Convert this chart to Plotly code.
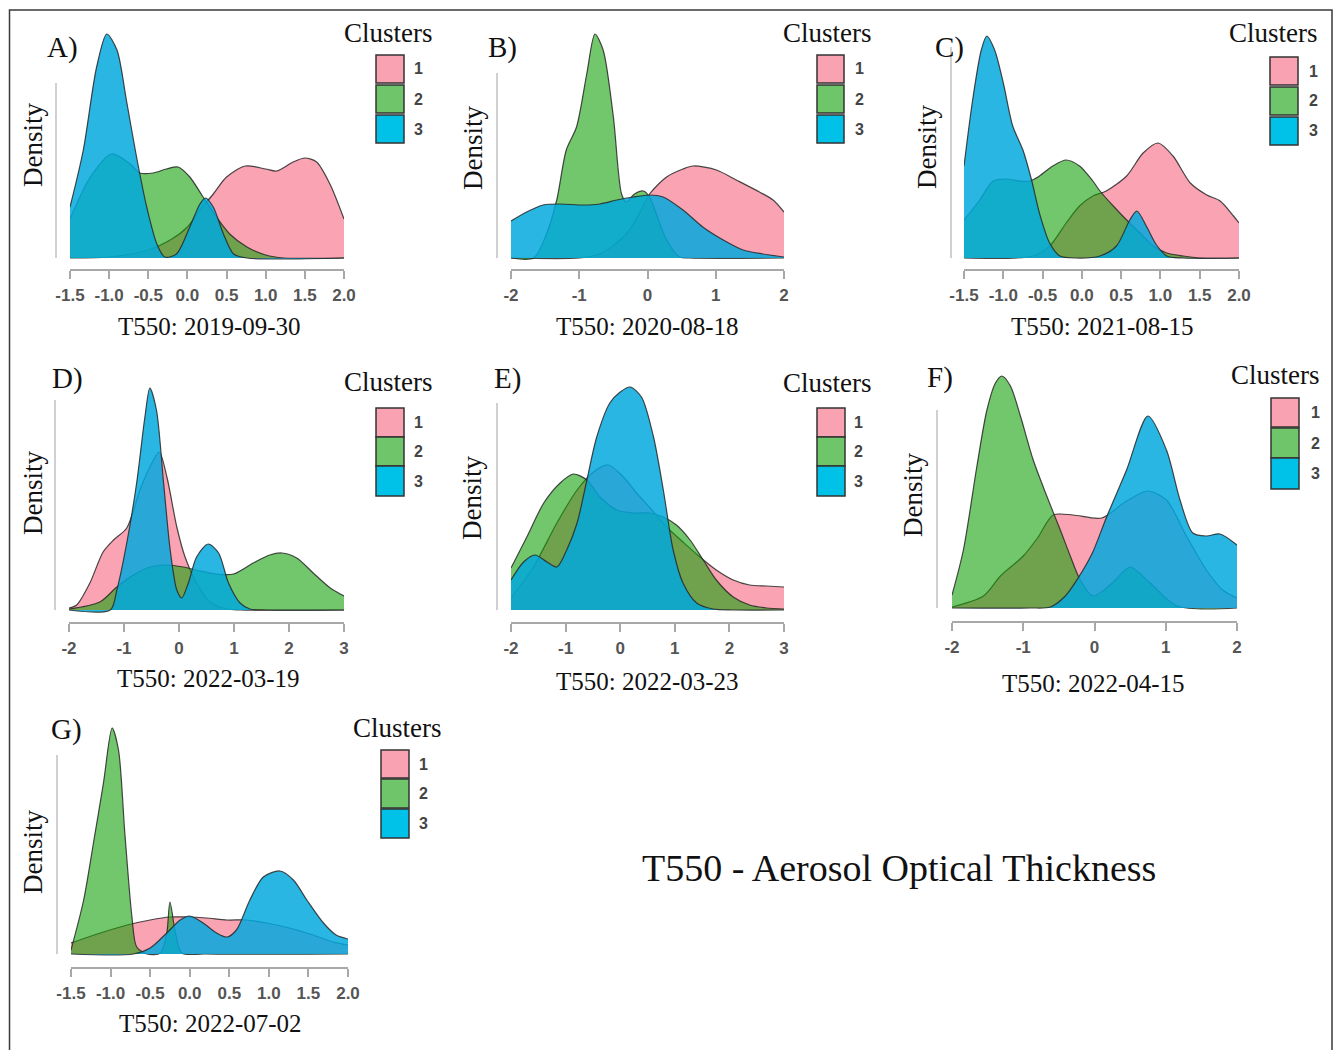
import plotly.graph_objects as go

W, H = 1342, 1050

# ---------------- data (densities, relative units) ----------------
CLUSTERS = ["1", "2", "3"]

TICKS_A = [-1.5, -1.0, -0.5, 0.0, 0.5, 1.0, 1.5, 2.0]
TICKTEXT_A = ["-1.5", "-1.0", "-0.5", "0.0", "0.5", "1.0", "1.5", "2.0"]
TICKS_B = [-2, -1, 0, 1, 2]
TICKTEXT_B = ["-2", "-1", "0", "1", "2"]
TICKS_D = [-2, -1, 0, 1, 2, 3]
TICKTEXT_D = ["-2", "-1", "0", "1", "2", "3"]

TITLES = ["T550: 2019-09-30", "T550: 2020-08-18", "T550: 2021-08-15",
          "T550: 2022-03-19", "T550: 2022-03-23", "T550: 2022-04-15",
          "T550: 2022-07-02"]
LETTERS = ["A)", "B)", "C)", "D)", "E)", "F)", "G)"]

# Panel A
a_pink_x = [-1.5, -1.0, -0.5, -0.2, 0.0, 0.16, 0.33, 0.5, 0.74, 1.0, 1.14, 1.35, 1.5, 1.65, 1.82, 2.0]
a_pink_y = [0.0, 0.01, 0.08, 0.19, 0.31, 0.48, 0.64, 0.81, 0.92, 0.89, 0.87, 0.96, 1.00, 0.96, 0.74, 0.39]
a_green_x = [-1.5, -1.24, -0.97, -0.73, -0.61, -0.44, -0.27, -0.12, 0.03, 0.20, 0.37, 0.54, 0.76, 1.0, 1.23, 2.0]
a_green_y = [0.39, 0.81, 1.04, 0.94, 0.85, 0.85, 0.89, 0.91, 0.81, 0.61, 0.41, 0.24, 0.11, 0.03, 0.0, 0.0]
a_blue_x = [-1.5, -1.33, -1.16, -1.03, -0.90, -0.78, -0.65, -0.52, -0.39, -0.29, -0.14, 0.03, 0.16, 0.23, 0.33, 0.46, 0.59, 0.76, 2.0]
a_blue_y = [0.51, 1.08, 1.91, 2.24, 2.08, 1.58, 1.01, 0.51, 0.14, 0.01, 0.04, 0.31, 0.54, 0.60, 0.51, 0.24, 0.04, 0.0, 0.0]

# Panel B
b_pink_x = [-2.0, -1.0, -0.70, -0.31, -0.10, 0.03, 0.28, 0.52, 0.67, 1.01, 1.30, 1.64, 1.84, 2.0]
b_pink_y = [0.0, 0.0, 0.04, 0.24, 0.47, 0.64, 0.81, 0.89, 0.92, 0.88, 0.78, 0.66, 0.58, 0.46]
b_green_x = [-2.0, -1.67, -1.48, -1.33, -1.19, -1.04, -0.89, -0.77, -0.65, -0.50, -0.38, -0.31, -0.19, -0.06, 0.03, 0.13, 0.28, 0.47, 0.62, 2.0]
b_green_y = [0.0, 0.0, 0.24, 0.58, 1.08, 1.31, 1.84, 2.24, 2.08, 1.41, 0.64, 0.56, 0.64, 0.67, 0.61, 0.44, 0.18, 0.01, 0.0, 0.0]
b_blue_x = [-2.0, -1.77, -1.53, -1.28, -0.94, -0.70, -0.45, -0.21, 0.03, 0.23, 0.52, 0.81, 1.11, 1.40, 1.69, 2.0]
b_blue_y = [0.37, 0.46, 0.53, 0.54, 0.53, 0.54, 0.58, 0.61, 0.63, 0.61, 0.48, 0.31, 0.18, 0.08, 0.04, 0.01]

# Panel C
c_pink_x = [-1.5, -0.62, -0.41, -0.20, -0.03, 0.14, 0.31, 0.57, 0.78, 0.97, 1.16, 1.38, 1.59, 1.76, 1.93, 2.0]
c_pink_y = [0.0, 0.02, 0.12, 0.35, 0.52, 0.62, 0.67, 0.82, 1.05, 1.15, 1.02, 0.75, 0.63, 0.57, 0.42, 0.35]
c_green_x = [-1.5, -1.30, -1.13, -0.96, -0.79, -0.66, -0.54, -0.37, -0.20, -0.03, 0.14, 0.23, 0.40, 0.57, 0.74, 0.91, 1.08, 1.29, 1.50, 2.0]
c_green_y = [0.38, 0.58, 0.77, 0.79, 0.77, 0.77, 0.82, 0.92, 0.98, 0.92, 0.77, 0.67, 0.52, 0.38, 0.25, 0.12, 0.05, 0.02, 0.0, 0.0]
c_blue_x = [-1.5, -1.39, -1.28, -1.21, -1.11, -1.00, -0.88, -0.75, -0.64, -0.54, -0.41, -0.28, -0.07, 0.23, 0.44, 0.61, 0.70, 0.82, 0.95, 1.08, 1.29, 2.0]
c_blue_y = [0.92, 1.58, 2.08, 2.22, 2.08, 1.75, 1.32, 1.08, 0.78, 0.45, 0.15, 0.02, 0.0, 0.02, 0.12, 0.38, 0.47, 0.32, 0.13, 0.02, 0.0, 0.0]

# Panel D
d_pink_x = [-2.0, -1.86, -1.62, -1.38, -1.19, -0.95, -0.71, -0.53, -0.36, -0.22, -0.04, 0.11, 0.32, 0.56, 0.87, 1.12, 3.0]
d_pink_y = [0.02, 0.05, 0.27, 0.58, 0.70, 0.82, 1.20, 1.43, 1.58, 1.33, 0.83, 0.53, 0.27, 0.08, 0.01, 0.0, 0.0]
d_green_x = [-2.0, -1.44, -1.13, -0.83, -0.53, -0.22, 0.08, 0.38, 0.68, 0.99, 1.35, 1.65, 1.87, 2.14, 2.44, 2.75, 3.0]
d_green_y = [0.01, 0.08, 0.23, 0.35, 0.43, 0.45, 0.43, 0.39, 0.36, 0.36, 0.47, 0.55, 0.57, 0.52, 0.37, 0.22, 0.14]
d_blue_x = [-2.0, -1.25, -1.13, -0.95, -0.77, -0.62, -0.53, -0.41, -0.28, -0.16, -0.04, 0.05, 0.17, 0.32, 0.53, 0.72, 0.90, 1.11, 1.29, 1.6, 3.0]
d_blue_y = [0.0, 0.0, 0.20, 0.67, 1.27, 1.93, 2.22, 2.00, 1.27, 0.60, 0.20, 0.12, 0.27, 0.53, 0.66, 0.57, 0.27, 0.07, 0.01, 0.0, 0.0]

# Panel E
e_pink_x = [-2.0, -1.59, -1.16, -0.79, -0.49, -0.22, 0.06, 0.30, 0.55, 0.85, 1.15, 1.46, 1.76, 2.07, 2.37, 2.68, 3.0]
e_pink_y = [0.12, 0.43, 0.87, 1.20, 1.38, 1.45, 1.33, 1.17, 1.02, 0.83, 0.68, 0.53, 0.40, 0.30, 0.25, 0.24, 0.23]
e_green_x = [-2.0, -1.71, -1.40, -1.10, -0.86, -0.61, -0.37, -0.06, 0.24, 0.55, 0.79, 1.03, 1.28, 1.52, 1.76, 2.07, 2.37, 2.68, 3.0]
e_green_y = [0.42, 0.73, 1.07, 1.27, 1.36, 1.30, 1.13, 1.00, 0.97, 0.97, 0.93, 0.85, 0.70, 0.50, 0.30, 0.13, 0.05, 0.02, 0.01]
e_blue_x = [-2.0, -1.77, -1.56, -1.34, -1.16, -0.98, -0.79, -0.61, -0.43, -0.19, 0.0, 0.18, 0.39, 0.61, 0.79, 0.97, 1.15, 1.40, 1.70, 2.07, 3.0]
e_blue_y = [0.30, 0.48, 0.55, 0.48, 0.43, 0.60, 0.87, 1.30, 1.73, 2.07, 2.18, 2.23, 2.13, 1.73, 1.20, 0.60, 0.27, 0.07, 0.01, 0.0, 0.0]

# Panel F
f_pink_x = [-2.0, -1.56, -1.32, -1.00, -0.80, -0.58, -0.30, 0.10, 0.45, 0.75, 1.01, 1.29, 1.57, 1.80, 2.0]
f_pink_y = [0.01, 0.12, 0.32, 0.52, 0.70, 0.93, 0.93, 0.90, 1.07, 1.17, 1.08, 0.72, 0.38, 0.18, 0.10]
f_green_x = [-2.0, -1.84, -1.65, -1.51, -1.39, -1.30, -1.18, -1.04, -0.86, -0.67, -0.48, -0.34, -0.20, -0.02, 0.25, 0.50, 0.78, 1.16, 2.0]
f_green_y = [0.13, 0.58, 1.42, 1.98, 2.25, 2.32, 2.22, 1.92, 1.48, 1.12, 0.78, 0.52, 0.28, 0.12, 0.25, 0.41, 0.25, 0.02, 0.0]
f_blue_x = [-2.0, -0.9, -0.62, -0.41, -0.23, -0.03, 0.17, 0.45, 0.75, 1.01, 1.20, 1.38, 1.57, 1.76, 2.0]
f_blue_y = [0.0, 0.0, 0.01, 0.12, 0.30, 0.55, 0.91, 1.38, 1.92, 1.58, 1.08, 0.75, 0.72, 0.74, 0.63]

# Panel G
g_pink_x = [-1.5, -1.13, -0.79, -0.50, -0.25, -0.04, 0.21, 0.47, 0.72, 0.97, 1.26, 1.56, 1.81, 2.0]
g_pink_y = [0.11, 0.21, 0.29, 0.34, 0.37, 0.37, 0.36, 0.34, 0.34, 0.31, 0.26, 0.19, 0.12, 0.09]
g_green_x = [-1.5, -1.34, -1.21, -1.09, -0.98, -0.90, -0.82, -0.73, -0.67, -0.54, -0.37, -0.29, -0.25, -0.18, -0.10, 0.2, 2.0]
g_green_y = [0.04, 0.54, 1.14, 1.71, 2.26, 2.04, 1.21, 0.37, 0.07, 0.0, 0.01, 0.21, 0.52, 0.21, 0.01, 0.0, 0.0]
g_blue_x = [-1.5, -0.71, -0.50, -0.29, -0.12, 0.0, 0.17, 0.34, 0.47, 0.59, 0.76, 0.93, 1.14, 1.31, 1.48, 1.69, 1.85, 2.0]
g_blue_y = [0.0, 0.0, 0.06, 0.21, 0.34, 0.38, 0.31, 0.21, 0.17, 0.24, 0.54, 0.77, 0.83, 0.74, 0.54, 0.31, 0.19, 0.15]

PANEL_DATA = [
    [(a_pink_x, a_pink_y), (a_green_x, a_green_y), (a_blue_x, a_blue_y)],
    [(b_pink_x, b_pink_y), (b_green_x, b_green_y), (b_blue_x, b_blue_y)],
    [(c_pink_x, c_pink_y), (c_green_x, c_green_y), (c_blue_x, c_blue_y)],
    [(d_pink_x, d_pink_y), (d_green_x, d_green_y), (d_blue_x, d_blue_y)],
    [(e_pink_x, e_pink_y), (e_green_x, e_green_y), (e_blue_x, e_blue_y)],
    [(f_pink_x, f_pink_y), (f_green_x, f_green_y), (f_blue_x, f_blue_y)],
    [(g_pink_x, g_pink_y), (g_green_x, g_green_y), (g_blue_x, g_blue_y)],
]
PANEL_TICKS = [(TICKS_A, TICKTEXT_A), (TICKS_B, TICKTEXT_B), (TICKS_A, TICKTEXT_A),
               (TICKS_D, TICKTEXT_D), (TICKS_D, TICKTEXT_D), (TICKS_B, TICKTEXT_B),
               (TICKS_A, TICKTEXT_A)]

# ---------------- styling / layout (pixel geometry) ----------------
FILLS = ["rgba(247,120,142,0.68)", "rgba(20,160,8,0.6)", "rgba(0,168,222,0.84)"]
KEY_FILLS = ["#F9A3B2", "#6EC56A", "#00C1E8"]
OUTLINE = "rgba(40,40,40,0.85)"
AXIS_GRAY = "#A8A8A8"
SERIF = "Liberation Serif"
SANS = "Liberation Sans"
S = 100.0  # pixels per density unit
OFF = 8    # page body margin compensation

GEOM = [
    dict(x0=70, x1=344, top=20, base=258, axis=269, yline=(56, 83), dens=(33, 145), letter=(63, 48),
         title=(209, 327), leg=dict(cx=388, cy=33, bx=(376, 404), rows=[(55, 83), (85, 113), (115, 143)], lx=418)),
    dict(x0=511, x1=784, top=20, base=258, axis=269, yline=(497, 73), dens=(473, 148), letter=(502, 48),
         title=(647, 327), leg=dict(cx=827, cy=33, bx=(817, 844), rows=[(55, 83), (85, 113), (115, 143)], lx=859)),
    dict(x0=964, x1=1239, top=20, base=258, axis=269, yline=(951, 47), dens=(927, 147), letter=(950, 48),
         title=(1102, 327), leg=dict(cx=1273, cy=33, bx=(1270, 1298), rows=[(57, 85), (87, 115), (117, 145)], lx=1313)),
    dict(x0=69, x1=344, top=370, base=610, axis=622, yline=(55, 400), dens=(33, 493), letter=(67, 378),
         title=(208, 678), leg=dict(cx=388, cy=382, bx=(376, 404), rows=[(408, 437), (437, 466), (466, 496)], lx=418)),
    dict(x0=511, x1=784, top=370, base=610, axis=622, yline=(497, 403), dens=(472, 498), letter=(507, 378),
         title=(647, 681), leg=dict(cx=827, cy=383, bx=(817, 845), rows=[(408, 437), (437, 466), (466, 496)], lx=858)),
    dict(x0=952, x1=1237, top=360, base=608, axis=621, yline=(937, 410), dens=(913, 495), letter=(940, 377),
         title=(1093, 683), leg=dict(cx=1275, cy=375, bx=(1271, 1299), rows=[(398, 427), (428, 458), (458, 489)], lx=1315)),
    dict(x0=71, x1=348, top=715, base=954, axis=967, yline=(57, 755), dens=(33, 852), letter=(66, 729),
         title=(210, 1023), leg=dict(cx=397, cy=728, bx=(381, 409), rows=[(750, 778), (779, 808), (809, 838)], lx=423)),
]


def px(x):
    return (x - OFF) / W


def py(y):
    return 1 - (y - OFF) / H


fig = go.Figure()
layout = dict(width=W, height=H, margin=dict(l=0, r=0, t=0, b=0, pad=0, autoexpand=False),
              paper_bgcolor="white", plot_bgcolor="rgba(0,0,0,0)", showlegend=False)
shapes = []
annotations = []

for i, (curves, (tv, tt), g) in enumerate(zip(PANEL_DATA, PANEL_TICKS, GEOM)):
    n = i + 1
    xa = "x" if n == 1 else f"x{n}"
    ya = "y" if n == 1 else f"y{n}"
    for (cx, cy), fill, cl in zip(curves, FILLS, CLUSTERS):
        fig.add_trace(go.Scatter(
            x=cx, y=cy, xaxis=xa, yaxis=ya, mode="lines", name=f"Cluster {cl}",
            line=dict(shape="spline", smoothing=0.8, color=OUTLINE, width=1.2),
            fill="tozeroy", fillcolor=fill, hoverinfo="x+y+name"))
    layout[f"xaxis{'' if n == 1 else n}"] = dict(
        domain=[px(g["x0"]), px(g["x1"])], range=[tv[0], tv[-1]], anchor=ya,
        tickmode="array", tickvals=tv, ticktext=tt, ticks="outside", ticklen=8,
        tickwidth=1.5, tickcolor=AXIS_GRAY, showline=True, linecolor=AXIS_GRAY,
        linewidth=1.5, showgrid=False, zeroline=False, ticklabelstandoff=2, automargin=False,
        tickfont=dict(family=SANS, size=17, color="#555555", weight="bold"))
    layout[f"yaxis{'' if n == 1 else n}"] = dict(
        domain=[py(g["axis"]), py(g["top"])],
        range=[-(g["axis"] - g["base"]) / S, (g["base"] - g["top"]) / S],
        anchor=xa, visible=False, showgrid=False, zeroline=False, automargin=False)

    lx, ly = g["yline"]
    shapes.append(dict(type="line", xref="paper", yref="paper", x0=px(lx), x1=px(lx),
                       y0=py(ly), y1=py(g["base"]), line=dict(color="#C0C0C0", width=1.5)))
    annotations.append(dict(text="Density", x=px(g["dens"][0]), y=py(g["dens"][1]), xref="paper",
                            yref="paper", showarrow=False, textangle=-90, xanchor="center", yanchor="middle",
                            font=dict(family=SERIF, size=27, color="#111")))
    annotations.append(dict(text=LETTERS[i], x=px(g["letter"][0]), y=py(g["letter"][1]), xref="paper",
                            yref="paper", showarrow=False, xanchor="center", yanchor="middle",
                            font=dict(family=SERIF, size=29, color="#111")))
    annotations.append(dict(text=TITLES[i], x=px(g["title"][0]), y=py(g["title"][1]), xref="paper",
                            yref="paper", showarrow=False, xanchor="center", yanchor="middle",
                            font=dict(family=SERIF, size=25, color="#111")))
    lg = g["leg"]
    annotations.append(dict(text="Clusters", x=px(lg["cx"]), y=py(lg["cy"]), xref="paper", yref="paper",
                            showarrow=False, xanchor="center", yanchor="middle",
                            font=dict(family=SERIF, size=27, color="#111")))
    for (r0, r1), kc, cl in zip(lg["rows"], KEY_FILLS, CLUSTERS):
        shapes.append(dict(type="rect", xref="paper", yref="paper", x0=px(lg["bx"][0]), x1=px(lg["bx"][1]),
                           y0=py(r1), y1=py(r0), fillcolor=kc, line=dict(color="#333333", width=1.5)))
        annotations.append(dict(text=cl, x=px(lg["lx"]), y=py((r0 + r1) / 2), xref="paper", yref="paper",
                                showarrow=False, xanchor="center", yanchor="middle",
                                font=dict(family=SANS, size=16, color="#444444", weight="bold")))

annotations.append(dict(text="T550 - Aerosol Optical Thickness", x=px(899), y=py(868), xref="paper",
                        yref="paper", showarrow=False, xanchor="center", yanchor="middle",
                        font=dict(family=SERIF, size=38, color="#111")))
shapes.append(dict(type="rect", xref="paper", yref="paper", x0=px(9.5), x1=px(1332), y0=-0.02, y1=py(10),
                   line=dict(color="#3A3A3A", width=1.5), fillcolor="rgba(0,0,0,0)", layer="below"))

layout["shapes"] = shapes
layout["annotations"] = annotations
fig.update_layout(**layout)
fig.write_html("out.html")
